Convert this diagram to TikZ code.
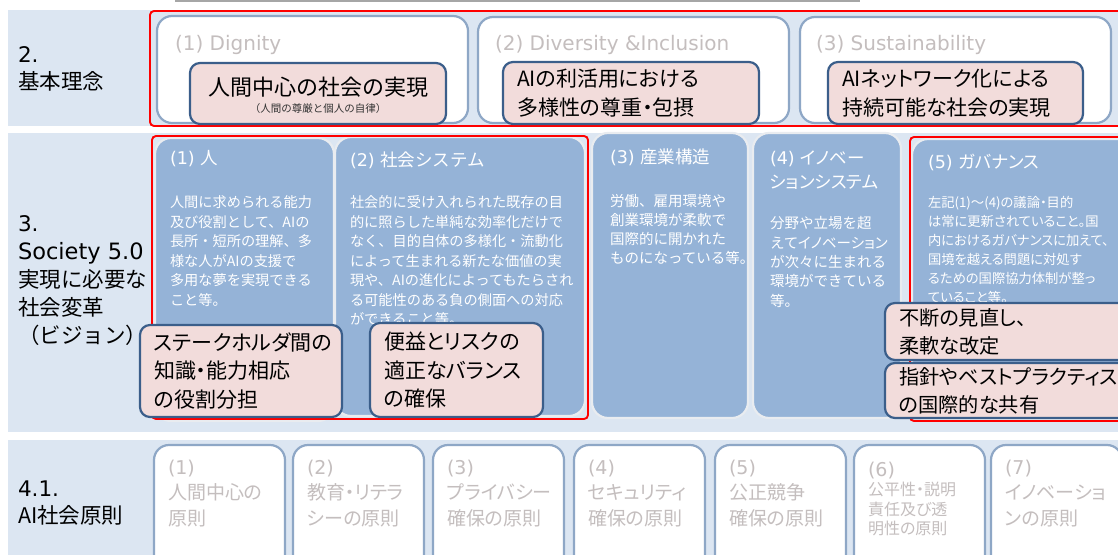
\documentclass[tikz,border=0pt]{standalone}
\usepackage{fontspec}
\setmainfont{Noto Sans CJK JP}
\newfontfamily\jpk[RawFeature=+palt]{Noto Sans CJK JP}
\newfontfamily\lat{DejaVu Sans}
\usetikzlibrary{positioning}

\definecolor{bandblue}{HTML}{DCE6F2}
\definecolor{colblue}{HTML}{95B3D7}
\definecolor{colrim}{HTML}{E9ECF0}
\definecolor{frameblue}{HTML}{8EA7C6}
\definecolor{pinkfill}{HTML}{F2DCDB}
\definecolor{pinkrim}{HTML}{3B5E8A}
\definecolor{fadetext}{HTML}{C4BEBE}

\begin{document}
\begin{tikzpicture}[
  x=1pt, y=-1pt,
  every node/.style={inner sep=0pt, outer sep=0pt},
  redframe/.style={draw=red, line width=1.9pt, rounded corners=4pt},
  wbox/.style={draw=frameblue, fill=white, line width=2.2pt, rounded corners=15pt, anchor=north west},
  colbox/.style={draw=colrim, fill=colblue, line width=2.2pt, rounded corners=16pt, anchor=north west},
  pinkbox/.style={draw=pinkrim, fill=pinkfill, line width=2.2pt, rounded corners=10pt, anchor=north west, align=left, inner xsep=14pt, font=\jpk\fontsize{21}{28.5}\selectfont},
  rowlabel/.style={anchor=west, align=left, text=black, font=\fontsize{21.5}{27}\selectfont},
  faded/.style={anchor=west, align=left, text=fadetext, font=\lat\fontsize{20}{24}\selectfont},
  coltitle/.style={anchor=west, align=left, text=white, font=\fontsize{17.5}{24}\selectfont},
  colbody/.style={anchor=west, align=left, text=white, font=\fontsize{14.2}{19.5}\selectfont},
  principle/.style={anchor=north west, align=left, text=fadetext, font=\jpk\fontsize{19}{25.5}\selectfont}
]
\useasboundingbox (0,0) rectangle (1118,554);
\clip (0,0) rectangle (1118,554);

% Background bands
\fill[white] (0,0) rectangle (1118,554);
\draw[gray!70, line width=1.2pt] (175,1) -- (860,1);
\fill[bandblue] (8,10) rectangle (1120,126);
\fill[bandblue] (8,133) rectangle (1120,432);
\fill[bandblue] (8,440) rectangle (1120,556);

% Row 2: basic philosophy
\node[rowlabel] (lab2) at (18,68.5) {{\lat 2.}\\基本理念};

\node[wbox, minimum width=311pt, minimum height=107pt] (dign) at (157,16) {};
\node[wbox, minimum width=311pt, minimum height=106pt] (divi) at (478,17) {};
\node[wbox, minimum width=311pt, minimum height=106pt] (sust) at (800,17) {};
\node[faded] (dignT) at (175,45) {(1) Dignity};
\node[faded] (diviT) at (495,45) {(2) Diversity \&Inclusion};
\node[faded] (sustT) at (816,45) {(3) Sustainability};

\draw[redframe] (150,11) rectangle (1135,126);

\node[pinkbox, minimum width=256pt, minimum height=61pt] (dignP) at (190,63) {};
\node[font=\fontsize{22}{26}\selectfont] (dignM) at (318,87) {人間中心の社会の実現};
\node[font=\fontsize{10.5}{12}\selectfont, text=black!80] (dignS) at (318,109) {（人間の尊厳と個人の自律）};
\node[pinkbox, minimum width=256pt, minimum height=62pt, text width=228pt] (diviP) at (503,62)
  {AIの利活用における\\多様性の尊重・包摂};
\node[pinkbox, minimum width=255pt, minimum height=62pt, text width=227pt] (sustP) at (828,62)
  {AIネットワーク化による\\持続可能な社会の実現};

% Row 3: vision for Society 5.0
\node[rowlabel, font=\fontsize{21.5}{28}\selectfont] (lab3) at (18,281)
  {{\lat 3.}\\{\lat\fontsize{22.5}{28}\selectfont Society 5.0}\\実現に必要な\\社会変革\\（ビジョン）};

\node[colbox, minimum width=179pt, minimum height=283pt] (hito) at (155,138) {};
\node[colbox, minimum width=250pt, minimum height=279pt] (socsys) at (335,137) {};
\node[colbox, minimum width=156pt, minimum height=285pt] (indus) at (592,133) {};
\node[colbox, minimum width=148pt, minimum height=285pt] (innov) at (753,133) {};
\node[colbox, minimum width=230pt, minimum height=281pt] (gov) at (912,139) {};

\node[coltitle] (hitoT) at (170,159) {{\lat (1) }人};
\node[colbody] (hitoB) at (170,251)
  {人間に求められる能力\\及び役割として、AIの\\長所・短所の理解、多\\様な人がAIの支援で\\多用な夢を実現できる\\こと等。};

\node[coltitle] (socsysT) at (350,160) {{\lat (2) }社会システム};
\node[colbody] (socsysB) at (350,261)
  {社会的に受け入れられた既存の目\\的に照らした単純な効率化だけで\\なく、目的自体の多様化・流動化\\によって生まれる新たな価値の実\\現や、AIの進化によってもたらされ\\る可能性のある負の側面への対応\\ができること等。};

\node[coltitle] (indusT) at (610,157) {{\lat (3) }産業構造};
\node[colbody, font=\fontsize{14.5}{19}\selectfont] (indusB) at (610,229)
  {労働、雇用環境や\\創業環境が柔軟で\\国際的に開かれた\\ものになっている等。};

\node[coltitle, font=\jpk\fontsize{17.5}{24}\selectfont] (innovT) at (770,170) {{\lat (4) }イノベー\\ションシステム};
\node[colbody, font=\fontsize{14.5}{19.3}\selectfont] (innovB) at (770,262)
  {分野や立場を超\\え{\jpk てイノベーション}\\が次々に生まれる\\環境ができている\\等。};

\node[coltitle] (govT) at (928,162) {{\lat (5) }{\jpk ガバナンス}};
\node[colbody, font=\jpk\fontsize{13.3}{19}\selectfont] (govB) at (928,250)
  {左記(1)～(4)の議論・目的\\は常に更新されていること。国\\内におけるガバナンスに加えて、\\国境を越える問題に対処す\\るための国際協力体制が整っ\\ていること等。};

\draw[redframe] (152,136) rectangle (588,419);
\draw[redframe] (910,137) rectangle (1135,421);

\node[pinkbox, minimum width=202pt, minimum height=92pt, text width=174pt] (roleP) at (140,325)
  {ステークホルダ間の\\知識・能力相応\\の役割分担};
\node[pinkbox, minimum width=173pt, minimum height=94pt, text width=145pt] (riskP) at (370,323)
  {便益とリスクの\\適正なバランス\\の確保};
\node[pinkbox, font=\jpk\fontsize{20.2}{28}\selectfont, minimum width=250pt, minimum height=57pt, text width=222pt] (reviewP) at (885,303)
  {不断の見直し、\\柔軟な改定};
\node[pinkbox, font=\jpk\fontsize{20.2}{28}\selectfont, minimum width=250pt, minimum height=55pt, text width=222pt] (shareP) at (885,363)
  {指針やベストプラクティス\\の国際的な共有};

% Row 4.1: social principles of AI
\node[rowlabel] (lab4) at (18,503.5) {{\lat 4.1.}\\AI社会原則};

\node[wbox, minimum width=131pt, minimum height=130pt] (pr1) at (154,445) {};
\node[wbox, minimum width=131pt, minimum height=130pt] (pr2) at (293,445) {};
\node[wbox, minimum width=131pt, minimum height=130pt] (pr3) at (433,445) {};
\node[wbox, minimum width=131pt, minimum height=130pt] (pr4) at (574,445) {};
\node[wbox, minimum width=131pt, minimum height=130pt] (pr5) at (715,445) {};
\node[wbox, minimum width=131pt, minimum height=130pt] (pr6) at (854,445) {};
\node[wbox, minimum width=131pt, minimum height=130pt] (pr7) at (991,445) {};

\node[principle, below right=15pt and 14pt of pr1.north west] (pr1T) {{\lat (1)}\\人間中心の\\原則};
\node[principle, below right=15pt and 14pt of pr2.north west] (pr2T) {{\lat (2)}\\教育・リテラ\\シーの原則};
\node[principle, below right=15pt and 14pt of pr3.north west] (pr3T) {{\lat (3)}\\プライバシー\\確保の原則};
\node[principle, below right=15pt and 14pt of pr4.north west] (pr4T) {{\lat (4)}\\セキュリティ\\確保の原則};
\node[principle, below right=15pt and 14pt of pr5.north west] (pr5T) {{\lat (5)}\\公正競争\\確保の原則};
\node[principle, font=\jpk\fontsize{16}{19.5}\selectfont, below right=17pt and 14pt of pr6.north west] (pr6T)
  {{\lat\fontsize{19}{19.5}\selectfont (6)}\\公平性・説明\\責任及び透\\明性の原則};
\node[principle, below right=15pt and 14pt of pr7.north west] (pr7T) {{\lat (7)}\\イノベーショ\\ンの原則};

\end{tikzpicture}
\end{document}
